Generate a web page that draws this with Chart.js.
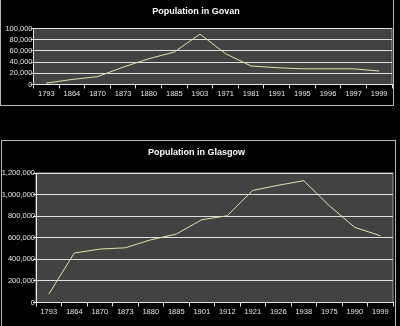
<!DOCTYPE html>
<html>
<head>
<meta charset="utf-8">
<script src="https://cdn.jsdelivr.net/npm/chart.js@4.4.1/dist/chart.umd.min.js"></script>
<style>
html,body{margin:0;padding:0;background:#000;width:400px;height:326px;overflow:hidden;}
.wrap{position:absolute;}
.frame{position:absolute;box-sizing:border-box;border:1px solid #b8b8b8;pointer-events:none;}
canvas{display:block;}
</style>
</head>
<body>
<div class="wrap" style="left:0;top:0;width:400px;height:106px;"><canvas id="govan"></canvas></div>
<div class="frame" style="left:0;top:-1px;width:394px;height:107px;"></div>
<div class="wrap" style="left:0;top:140px;width:400px;height:186px;"><canvas id="glasgow"></canvas></div>
<div class="frame" style="left:1px;top:140px;width:395px;height:190px;"></div>
<script>
// ---- Data ----
const govanYears = ["1793","1864","1870","1873","1880","1885","1903","1971","1981","1991","1995","1996","1997","1999"];
const govanPop = [2500, 9000, 14000, 31000, 46000, 58000, 90000, 55000, 33000, 30000, 28000, 28000, 28000, 24000];
const govanTicks = [0, 20000, 40000, 60000, 80000, 100000];

const glasgowYears = ["1793","1864","1870","1873","1880","1885","1901","1912","1921","1926","1938","1975","1990","1999"];
const glasgowPop = [77000, 458000, 495000, 507000, 581000, 634000, 767000, 804000, 1039000, 1086000, 1129000, 897000, 696000, 619000];
const glasgowTicks = [0, 200000, 400000, 600000, 800000, 1000000, 1200000];

const FONT = "'Liberation Sans', Arial, sans-serif";
const plotBg = {
  id: 'plotBg',
  beforeDraw(chart) {
    const a = chart.chartArea, c = chart.ctx;
    c.save();
    c.fillStyle = '#424242';
    c.fillRect(a.left, a.top, a.right - a.left, a.bottom - a.top);
    c.strokeStyle = '#9a9a9a';
    c.lineWidth = 1;
    c.strokeRect(a.left, a.top, a.right - a.left, a.bottom - a.top);
    c.restore();
  }
};

function makeChart(id, title, labels, values, ticks, cfg) {
  return new Chart(document.getElementById(id), {
    type: 'line',
    data: { labels: labels, datasets: [{ data: values, borderColor: '#e2e2aa', borderWidth: 1, pointRadius: 0, tension: 0, fill: false }] },
    options: {
      responsive: true, maintainAspectRatio: false, animation: false,
      devicePixelRatio: 1,
      layout: { padding: { left: 0, right: cfg.padRight, top: 0, bottom: 0 } },
      plugins: {
        legend: { display: false }, tooltip: { enabled: false },
        title: { display: true, text: title, color: '#ffffff', font: { family: FONT, size: 9, weight: 'bold' }, padding: { top: cfg.titleTop, bottom: cfg.titleBottom } }
      },
      scales: {
        x: {
          type: 'category', offset: true,
          grid: { offset: true, drawOnChartArea: false, color: '#e0e0e0', tickLength: 4, tickColor: '#e0e0e0' },
          border: { color: '#e8e8e8', width: 1 },
          ticks: { color: '#e8e8e8', font: { family: FONT, size: 7.5 }, padding: 1, maxRotation: 0, autoSkip: false },
          afterFit: s => { s.height = cfg.xHeight; }
        },
        y: {
          min: ticks[0], max: ticks[ticks.length - 1],
          afterBuildTicks: s => { s.ticks = ticks.map(v => ({ value: v })); },
          grid: { color: '#e0e0e0', tickLength: 3, tickColor: '#e0e0e0' },
          border: { color: '#e8e8e8', width: 1 },
          ticks: { color: '#e8e8e8', font: { family: FONT, size: 7.5 }, padding: -2, autoSkip: false, callback: v => v.toLocaleString('en-US') },
          afterFit: s => { s.width = cfg.yWidth; }
        }
      }
    },
    plugins: [plotBg]
  });
}

makeChart('govan', 'Population in Govan', govanYears, govanPop, govanTicks,
  { padRight: 8, titleTop: 6, titleBottom: 11.7, xHeight: 21.5, yWidth: 33.5 });
makeChart('glasgow', 'Population in Glasgow', glasgowYears, glasgowPop, glasgowTicks,
  { padRight: 7, titleTop: 7, titleBottom: 15.2, xHeight: 23.5, yWidth: 36 });
</script>
</body>
</html>
